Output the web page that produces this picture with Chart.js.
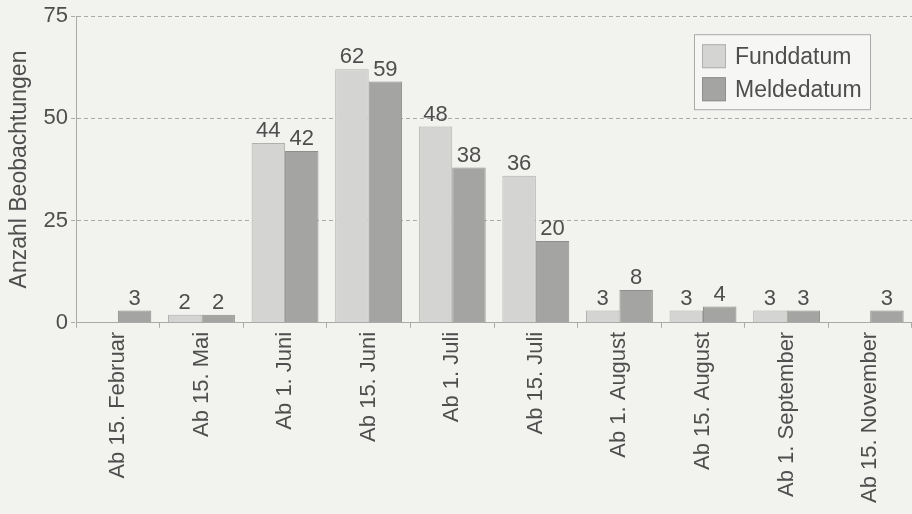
<!DOCTYPE html>
<html>
<head>
<meta charset="utf-8">
<script src="https://cdn.jsdelivr.net/npm/chart.js@4.4.0/dist/chart.umd.min.js"></script>
<style>
  html, body { margin: 0; padding: 0; background: #f2f2ef; }
  #wrap { width: 912px; height: 514px; }
</style>
</head>
<body>
<div id="wrap"><canvas id="chart" width="912" height="514"></canvas></div>
<script>
const categories = ['Ab 15. Februar', 'Ab 15. Mai', 'Ab 1. Juni', 'Ab 15. Juni', 'Ab 1. Juli',
    'Ab 15. Juli', 'Ab 1. August', 'Ab 15. August', 'Ab 1. September', 'Ab 15. November'];
const funddatum = [0, 2, 44, 62, 48, 36, 3, 3, 3, 0];
const meldedatum = [3, 2, 42, 59, 38, 20, 8, 4, 3, 3];
const yTicks = [0, 25, 50, 75];

const textColor = '#4e4e4e';
const fontFamily = '"Liberation Sans", Arial, sans-serif';

// value labels above each bar (zeros are left out)
const valueLabels = {
    id: 'valueLabels',
    afterDatasetsDraw(chart) {
        const ctx = chart.ctx;
        ctx.save();
        ctx.font = '22px ' + fontFamily;
        ctx.fillStyle = textColor;
        ctx.textAlign = 'center';
        ctx.textBaseline = 'bottom';
        chart.data.datasets.forEach((ds, i) => {
            chart.getDatasetMeta(i).data.forEach((bar, j) => {
                if (ds.data[j] > 0) {
                    ctx.fillText(ds.data[j], bar.x, bar.y - 1);
                }
            });
        });
        ctx.restore();
    }
};

// legend box inside the plot, top right
const boxLegend = {
    id: 'boxLegend',
    afterDraw(chart) {
        const ctx = chart.ctx;
        const area = chart.chartArea;
        const w = 176, h = 75;
        const x = area.right - 42 - w;
        const y = area.top + 18;
        ctx.save();
        ctx.fillStyle = '#f6f6f4';
        ctx.strokeStyle = '#aaa';
        ctx.lineWidth = 1;
        ctx.fillRect(x, y, w, h);
        ctx.strokeRect(x + 0.5, y + 0.5, w, h);
        ctx.font = '23px ' + fontFamily;
        ctx.textBaseline = 'middle';
        chart.data.datasets.forEach((ds, i) => {
            const sy = y + 10 + i * 33;
            ctx.fillStyle = ds.backgroundColor;
            ctx.fillRect(x + 8, sy, 24, 24);
            ctx.strokeStyle = ds.borderColor;
            ctx.strokeRect(x + 8.5, sy + 0.5, 23, 23);
            ctx.fillStyle = textColor;
            ctx.fillText(ds.label, x + 41, sy + 13);
        });
        ctx.restore();
    }
};

new Chart(document.getElementById('chart'), {
    type: 'bar',
    data: {
        labels: categories,
        datasets: [
            {
                label: 'Funddatum',
                data: funddatum,
                backgroundColor: '#d4d4d2',
                borderColor: '#b0b0ae',
                borderWidth: 1,
                categoryPercentage: 0.8,
                barPercentage: 1.0
            },
            {
                label: 'Meldedatum',
                data: meldedatum,
                backgroundColor: '#a4a4a2',
                borderColor: '#8e8e8c',
                borderWidth: 1,
                categoryPercentage: 0.8,
                barPercentage: 1.0
            }
        ]
    },
    options: {
        responsive: false,
        animation: false,
        layout: {
            padding: { top: 9, right: 0, bottom: 7, left: 6 }
        },
        scales: {
            x: {
                grid: {
                    offset: true,
                    drawOnChartArea: false,
                    drawTicks: true,
                    tickLength: 5,
                    color: '#aaa'
                },
                border: { display: true, color: '#aaa', width: 1 },
                ticks: {
                    color: textColor,
                    font: { size: 22, family: fontFamily },
                    minRotation: 90,
                    maxRotation: 90,
                    autoSkip: false,
                    padding: 4
                }
            },
            y: {
                min: 0,
                max: 75,
                afterBuildTicks(axis) {
                    axis.ticks = yTicks.map(v => ({ value: v }));
                },
                grid: {
                    color: ctx => ctx.tick && ctx.tick.value === 0 ? 'rgba(0,0,0,0)' : '#aaa',
                    tickColor: '#aaa',
                    tickLength: 5,
                    tickBorderDash: [4, 3]
                },
                border: { display: true, color: '#aaa', width: 1, dash: [4, 3] },
                ticks: {
                    color: textColor,
                    font: { size: 22, family: fontFamily },
                    padding: 3
                },
                title: {
                    display: true,
                    text: 'Anzahl Beobachtungen',
                    color: textColor,
                    font: { size: 23, family: fontFamily },
                    padding: { top: 0, bottom: 7 }
                }
            }
        },
        plugins: {
            legend: { display: false },
            tooltip: { enabled: false }
        }
    },
    plugins: [valueLabels, boxLegend]
});
</script>
</body>
</html>
